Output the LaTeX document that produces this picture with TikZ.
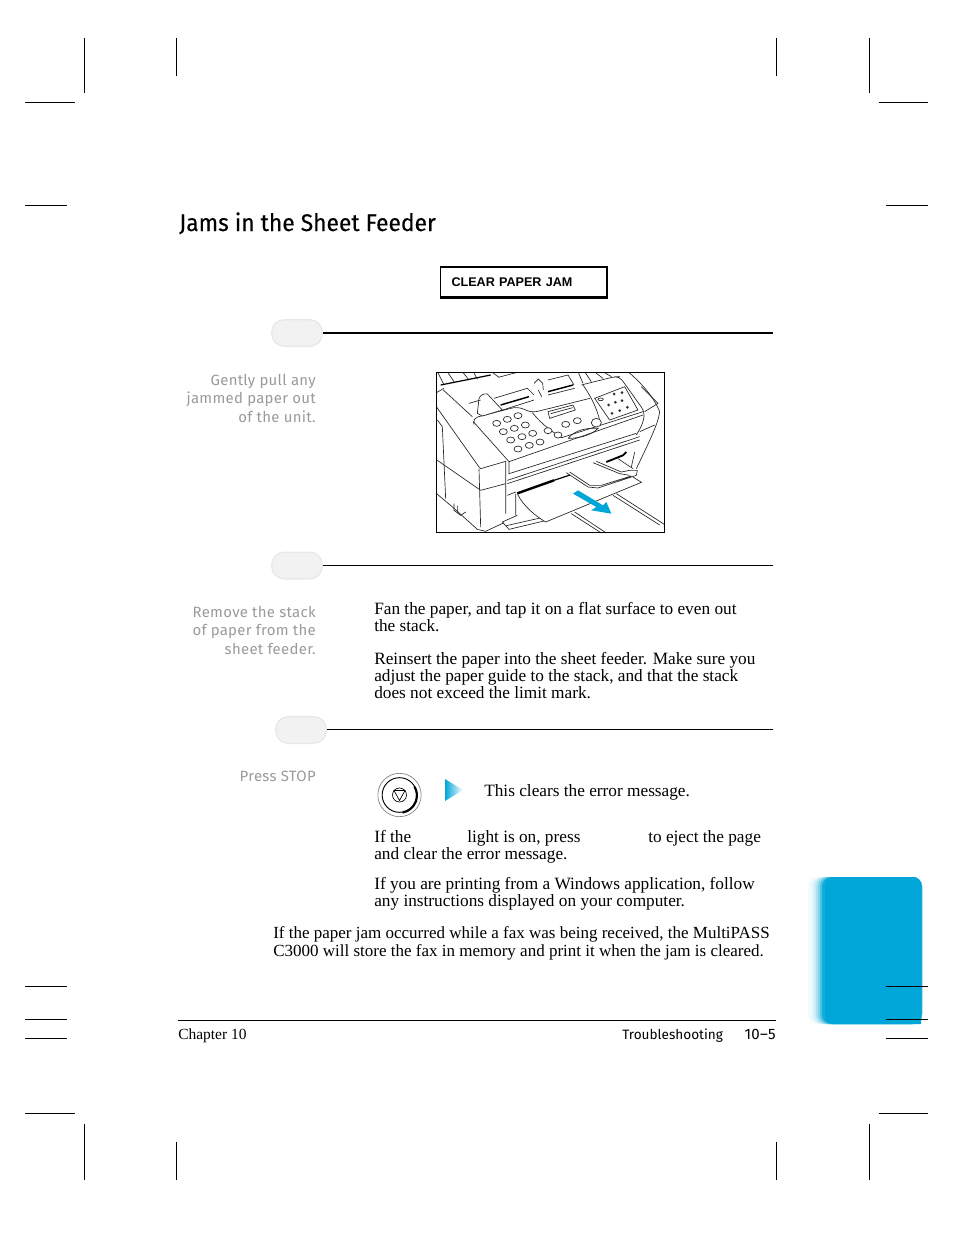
\documentclass[tikz,border=0pt]{standalone}
\usepackage{fontspec}
\setmainfont{Liberation Serif}
\newfontfamily\headfont[FakeStretch=0.95,FakeBold=0.25]{Fira Sans}
\newfontfamily\sidefont[LetterSpace=2]{Fira Sans}
\newfontfamily\footfont{Fira Sans}
\newfontfamily\lcdfont{Liberation Sans}
\usepackage{tikz}
\usetikzlibrary{shapes,arrows,arrows.meta,positioning}
\definecolor{tabblue}{HTML}{00A6D8}
\definecolor{sidegray}{HTML}{9A9A9A}

\begin{document}
\begin{tikzpicture}[x=0.75pt,y=-0.75pt,
	body/.style={font=\fontsize{12.95}{12.45}\selectfont, anchor=base west, align=left, inner sep=0},
	side/.style={font=\fontsize{11.2}{13.8}\sidefont, text=sidegray, anchor=base east, align=right, inner sep=0},
	pill/.style={rounded corners=9.5pt, draw=black!9, line width=1pt, fill=black!5, minimum width=38pt, minimum height=20pt, inner sep=0},
	jambox/.style={draw, line width=0.8pt, minimum width=125pt, minimum height=22.5pt, text width=108pt, align=left, font=\fontsize{9.45}{10}\lcdfont\bfseries},
	crop/.style={line width=0.6pt},
	ink/.style={line width=0.5pt, black!85},
	key/.style={ink, fill=white}
]
\useasboundingbox (0,0) rectangle (954,1235);

\foreach \px/\ya/\yb in {84/38/93,176/38/76,776/38/76,869/38/93,84/1124/1180,176/1142/1180,776/1142/1180,869/1124/1180}
	\draw[crop] (\px,\ya) -- (\px,\yb);

\foreach \i [evaluate=\i as \shadeval using int(5+1.8*\i*\i)] in {0,...,7}
	\fill[tabblue!\shadeval, rounded corners=7pt] (808+2*\i,877) rectangle (922,1024);
\fill[tabblue, rounded corners=6pt] (825,877) -- (921,877) [sharp corners] -- (921,1024) [rounded corners=6pt] -- (825,1024) -- cycle;

\foreach \py/\xa/\xb in {102/25/75,205/25/67,986/25/67,1019/25/67,1038/25/67,1113/25/75,102/879/928,205/886/928,986/886/928,1019/886/928,1038/886/928,1113/879/928}
	\draw[crop] (\xa,\py) -- (\xb,\py);

\node[anchor=base west, inner sep=0, font=\fontsize{18}{20}\headfont] (title) at (179,231) {Jams in the Sheet Feeder};
\node[jambox] (jam) at (523.5,282) {CLEAR PAPER JAM};
\draw[line width=1.5pt] (jam.north east) -- (jam.south east) -- (jam.south west);

\node[pill] (pill1) at (297,333) {};
\node[pill] (pill2) at (297,565.5) {};
\node[pill] (pill3) at (301,730) {};
\coordinate (end1) at (773,333);
\coordinate (end2) at (773,565.5);
\coordinate (end3) at (773,729.5);
\draw[line width=1.5pt] (pill1) -- (end1);
\draw[line width=0.7pt] (pill2) -- (end2);
\draw[line width=0.7pt] (pill3.east |- end3) -- (end3);

\node[side] (step1) at (316,422) {Gently pull any\\jammed paper out\\of the unit.};
\node[side] (step2) at (316,654) {Remove the stack\\of paper from the\\sheet feeder.};
\node[side] (step3) at (316,781) {Press STOP};

\begin{scope}[shift={(430,365)},x=0.25pt,y=-0.25pt]
	\clip (20,22) rectangle (703,505);
	% top of the unit
	\draw[ink] (22,20) -- (42,60) (52,20) -- (72,50) (97,20) -- (117,45) (130,20) -- (142,43) (184,20) -- (207,37) (205,37) -- (262,22);
	\draw[line width=0.9pt] (32,60) -- (182,30);
	\draw[ink] (12,87) -- (42,70) (40,75) -- (127,155);
	\draw[ink] (444,20) -- (459,55) (464,20) -- (484,50) (499,25) -- (519,40) (519,20) -- (544,35);
	\draw[ink] (354,45) -- (414,30) -- (432,60) (354,90) -- (434,70);
	\draw[line width=1.1pt] (354,80) -- (429,60);
	\draw[ink] (594,20) .. controls (640,60) and (670,95) .. (689,140) .. controls (685,175) and (660,225) .. (619,311);
	\draw[ink] (634,65) -- (684,115) -- (644,140) (629,200) -- (674,180);
	% front of the unit
	\draw[ink] (12,115) -- (147,306) -- (152,311) -- (227,289) -- (227,446);
	\draw[ink] (147,311) -- (152,486);
	\draw[ink] (22,165) -- (37,185) -- (47,401);
	\draw[ink] (22,286) -- (152,376) -- (227,356);
	\draw[ink] (20,386) -- (72,430) -- (142,493) -- (167,499) -- (222,473);
	\draw[ink] (72,416) -- (72,436) -- (92,451) -- (107,441) (82,422) -- (82,441);
	% panel
	\draw[ink, rounded corners=4pt] (130,170) -- (127,160) -- (262,125) -- (307,143) -- (480,100);
	\draw[ink, rounded corners=4pt] (454,60) -- (554,35) -- (569,35) -- (644,140) -- (639,175) -- (619,210);
	\draw[ink] (130,170) -- (237,290) -- (237,326) -- (619,205);
	\draw[ink] (237,290) -- (639,150);
	\draw[ink] (307,143) .. controls (330,170) and (350,190) .. (395,218) -- (639,140);
	\draw[ink] (459,60) .. controls (484,95) and (500,130) .. (509,165);
	\draw[ink] (232,346) -- (629,215) (232,356) -- (629,225);
	\draw[ink] (494,100) -- (584,65) -- (624,135) -- (539,165) -- cycle;
	\foreach \kx/\ky in {200/175,232/163,264/152,220/200,253/190,286/180,242/225,276/215,308/205,264/252,298/241,330/231,354/197,384/210,407/178,442/167}
		\draw[key] (\kx,\ky) ellipse (12 and 9);
	\draw[key] (499,173) ellipse (15 and 13);
	\draw[ink] (354,140) -- (429,120) -- (436,135) -- (359,160) -- cycle (362,146) -- (428,128);
	\draw[ink] (414,220) .. controls (435,195) and (470,188) .. (504,190) .. controls (485,210) and (450,220) .. (414,220);
	\foreach \dx/\dy in {552/87,576/83,536/120,556/112,576/107,546/145,569/137,592/127}
		\fill[black!80] (\dx,\dy) circle (4.5);
	\draw[ink] (512,103) ellipse (8 and 4);
	% paper holder
	\draw[ink, fill=white] (142,145) -- (147,100) .. controls (152,88) and (165,85) .. (172,87) -- (217,135) -- (157,153) -- cycle;
	\draw[ink] (117,115) -- (152,105) (192,100) -- (292,70) -- (312,90) (212,137) -- (312,105);
	\draw[line width=1.1pt] (212,120) -- (297,95);
	\draw[ink] (312,55) -- (325,42) -- (338,55) -- (340,75) (325,75) -- (335,95);
	% tray
	\draw[ink] (232,391) -- (257,381) (257,386) -- (257,451);
	\draw[ink] (217,471) -- (237,493) -- (342,468) (217,471) -- (262,451) (229,482) -- (335,458);
	\draw[line width=1.4pt] (529,291) -- (579,271) -- (589,261);
	\draw[ink] (564,281) -- (609,311) (614,261) -- (604,306);
	% paper
	\fill[white] (262,386) .. controls (280,425) and (320,455) .. (347,471) -- (634,352) -- (609,336) -- (520,300) -- (420,332) -- cycle;
	\draw[ink] (262,386) .. controls (280,425) and (320,455) .. (347,471) -- (634,352) -- (609,336);
	\draw[line width=1.8pt] (262,385) -- (372,346);
	\draw[line width=0.9pt] (372,346) -- (420,330);
	\draw[ink] (489,293) -- (569,326) -- (599,331) (499,289) -- (574,321);
	\draw[ink] (409,323) -- (474,366) -- (504,369) -- (619,331) -- (622,316) -- (599,316) -- (574,321) (419,321) -- (479,361) -- (514,361) -- (604,333);
	\draw[ink] (559,386) -- (703,478) (549,391) -- (689,480);
	\draw[ink] (434,441) -- (529,504) (424,446) -- (514,504);
	\fill[tabblue] (429,386) -- (444,376) -- (519,421) -- (529,411) -- (544,446) -- (484,436) -- (499,426) -- cycle;
\end{scope}
\node[draw, line width=0.6pt, minimum width=171.5pt, minimum height=120.5pt, inner sep=0] (photo) at (550.5,452.5) {};

\node[body] (fan) at (374,631) {Fan the paper, and tap it on a flat surface to even out\\the stack.};
\node[body] (reinsert) at (374,698) {Reinsert the paper into the sheet feeder. Make sure you\\adjust the paper guide to the stack, and that the stack\\does not exceed the limit mark.};
\node[body] (clears) at (484,796) {This clears the error message.};
\node[body] (ifthe) at (374,842) {If the};
\node[body] (light) at (467,842) {light is on, press};
\node[body] (eject) at (648,842) {to eject the page};
\node[body] (andclear) at (374,859) {and clear the error message.};
\node[body] (windows) at (374,906) {If you are printing from a Windows application, follow\\any instructions displayed on your computer.};
\node[body, font=\fontsize{12.75}{13.2}\selectfont] (note) at (273,956) {If the paper jam occurred while a fax was being received, the MultiPASS\\C3000 will store the fax in memory and print it when the jam is cleared.};

\node[circle, draw=black!50, line width=0.5pt, minimum size=32.5pt, inner sep=0] (stopring) at (399.5,795) {};
\node[circle, draw, line width=0.7pt, minimum size=26pt, inner sep=0] (stopkey) at (399.5,795) {};
\draw[line width=1.6pt] (stopkey.-80) arc (-80:30:13pt);
\node[circle, draw, line width=0.5pt, minimum size=10.5pt, inner sep=0] (stopmark) at (399.5,795) {};
\draw[line width=0.5pt] (394,790.5) -- (405,790.5) -- (399.5,800.5) -- cycle;
\shade[left color=tabblue, middle color=tabblue!25, right color=white] (445,779) -- (463,790) -- (445,801) -- cycle;

\coordinate (footl) at (178,1020.5);
\coordinate (footr) at (776,1020.5);
\draw[line width=0.7pt] (footl) -- (footr);
\node[body, font=\fontsize{11.6}{12}\selectfont] (chapter) at (178,1039) {Chapter 10};
\node[anchor=base east, inner sep=0, font=\fontsize{11.3}{12}\sidefont] (page) at (776,1039) {10–5};
\node[anchor=base west, inner sep=0, font=\fontsize{10.2}{12}\footfont] (trouble) at (622,1039) {Troubleshooting};
\end{tikzpicture}
\end{document}
